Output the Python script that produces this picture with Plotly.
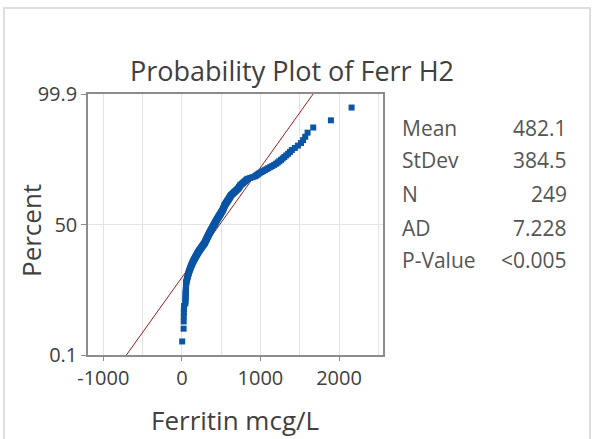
import plotly.graph_objects as go
from statistics import NormalDist

# ---- data ----
ferritin = [
    4,
    22, 23, 24, 25, 26, 28,
    44, 45, 46, 47, 48, 48, 49, 50, 51, 52, 52, 53, 54, 55, 56,
    60, 63, 66, 69, 72, 75, 78, 81, 84, 87, 90, 94, 97,
    101, 104, 108, 111, 115, 118, 122, 125, 129, 133, 136, 140,
    144, 148, 152, 156, 160, 164, 168, 172, 176, 180, 184, 188, 192, 196, 199, 203,
    207, 212, 216, 221, 225, 229, 234, 238, 243, 247, 252, 256, 260, 265, 269, 274, 278, 283, 287,
    290, 293, 296, 298, 301, 304, 307, 310, 312, 315, 318, 321, 324, 326, 329, 332, 335, 338, 340, 343,
    346, 349, 352, 354, 357, 360, 363, 366, 369, 372,
    375, 378, 381, 384, 387, 390, 393, 396, 399, 402, 405, 408, 411, 414, 417, 420, 423, 426, 429, 432,
    435, 438, 441, 444, 447, 450, 454, 457,
    460, 464, 467, 471, 474, 477, 481, 484, 488, 491, 494, 498, 501, 505, 508, 511, 515, 520,
    522, 524, 526, 529, 531, 533, 536, 538, 540, 543, 545,
    549, 553, 557, 561, 565, 569, 573, 577, 581, 585, 590, 594, 598, 602, 606, 610, 614, 618, 622, 626,
    634, 641, 649, 657, 664, 672, 680, 688, 696, 704, 712, 720,
    725, 730, 735, 740, 745,
    755, 766, 776, 786, 797, 807, 817, 828, 838,
    870, 900, 930,
    945, 960, 975, 990,
    1012, 1034, 1056, 1078, 1100,
    1125, 1150, 1175, 1200,
    1220, 1241, 1262, 1283, 1304,
    1328, 1352, 1376, 1400,
    1438, 1477, 1516,
    1543, 1570,
    1600, 1672, 1897, 2160,
]

stat_labels = ["Mean", "StDev", "N", "AD", "P-Value"]
stat_values = ["482.1", "384.5", "249", "7.228", "<0.005"]
fit_mean = 482.1
fit_sd = 384.5

y_tick_pct = [0.1, 50, 99.9]
y_tick_text = ["0.1", "50", "99.9"]
x_tick_vals = [-1000, 0, 1000, 2000]
x_tick_text = ["-1000", "0", "1000", "2000"]

# ---- probability plot positions (median ranks) ----
nd = NormalDist()
n = len(ferritin)
xs = sorted(ferritin)
zs = [nd.inv_cdf((i + 1 - 0.3) / (n + 0.4)) for i in range(n)]

zlo = nd.inv_cdf(0.001)
zhi = nd.inv_cdf(0.999)
fit_x = [fit_mean + fit_sd * zlo, fit_mean + fit_sd * zhi]
fit_z = [zlo, zhi]

W, H = 593, 439
L, R, T, B = 88, 383, 94, 355
pw, ph = R - L, B - T


def px(xp):
    return (xp - L) / pw


def py(yp):
    return (B - yp) / ph


text_col = "#404040"
font_fam = "Open Sans, Noto Sans, DejaVu Sans, sans-serif"

fig = go.Figure()
fig.add_trace(go.Scatter(
    x=fit_x, y=fit_z, mode="lines",
    line=dict(color="#a01c1c", width=1),
    hoverinfo="skip", showlegend=False,
))
fig.add_trace(go.Scatter(
    x=xs, y=zs, mode="markers",
    marker=dict(symbol="square", size=6, color="#0a55a5", line=dict(width=0)),
    showlegend=False,
))

fig.update_layout(
    width=W, height=H,
    margin=dict(l=L, r=W - R, t=T, b=H - B),
    paper_bgcolor="white", plot_bgcolor="white",
    font=dict(family=font_fam, color=text_col),
    showlegend=False,
)

fig.update_xaxes(
    range=[-1195, 2560],
    tickvals=x_tick_vals, ticktext=x_tick_text,
    ticks="outside", ticklen=4, tickcolor="#8c8c8c",
    tickfont=dict(size=20, color=text_col),
    showgrid=True, gridcolor="#e3e3e3", gridwidth=1,
    minor=dict(dtick=500, tick0=0, showgrid=True, gridcolor="#e3e3e3", ticks=""),
    showline=True, mirror=True, linecolor="#8c8c8c", linewidth=1.5,
    zeroline=False,
)
fig.update_yaxes(
    range=[zlo, zhi],
    tickvals=[nd.inv_cdf(p / 100) for p in y_tick_pct], ticktext=y_tick_text,
    ticks="outside", ticklen=5, tickcolor="#8c8c8c",
    tickfont=dict(size=20, color=text_col),
    showgrid=True, gridcolor="#e3e3e3", gridwidth=1,
    showline=True, mirror=True, linecolor="#8c8c8c", linewidth=1.5,
    zeroline=False,
)

ann = []
ann.append(dict(text="Probability Plot of Ferr H2", x=px(292), y=py(71),
                xref="paper", yref="paper", showarrow=False,
                xanchor="center", yanchor="middle",
                font=dict(size=27, color=text_col)))
ann.append(dict(text="Percent", x=px(31), y=py(231), textangle=-90,
                xref="paper", yref="paper", showarrow=False,
                xanchor="center", yanchor="middle",
                font=dict(size=26, color=text_col)))
ann.append(dict(text="Ferritin mcg/L", x=px(235), y=py(420),
                xref="paper", yref="paper", showarrow=False,
                xanchor="center", yanchor="middle",
                font=dict(size=26, color=text_col)))

row_y = [128, 160, 194, 228, 260]
for lab, val, yy in zip(stat_labels, stat_values, row_y):
    ann.append(dict(text=lab, x=px(400), y=py(yy), xref="paper", yref="paper",
                    showarrow=False, xanchor="left", yanchor="middle",
                    font=dict(size=21, color="#555555")))
    ann.append(dict(text=val, x=px(569), y=py(yy), xref="paper", yref="paper",
                    showarrow=False, xanchor="right", yanchor="middle",
                    font=dict(size=21, color="#555555")))
fig.update_layout(annotations=ann)

# outer frame of the graph window
fig.add_shape(type="rect", xref="paper", yref="paper",
              x0=px(4), x1=px(590), y0=py(460), y1=py(8),
              line=dict(color="#d4d4d4", width=1.5), fillcolor="rgba(0,0,0,0)",
              layer="below")

fig.write_html("out.html", config={"displayModeBar": False},
               post_script="document.body.style.margin='0';")
